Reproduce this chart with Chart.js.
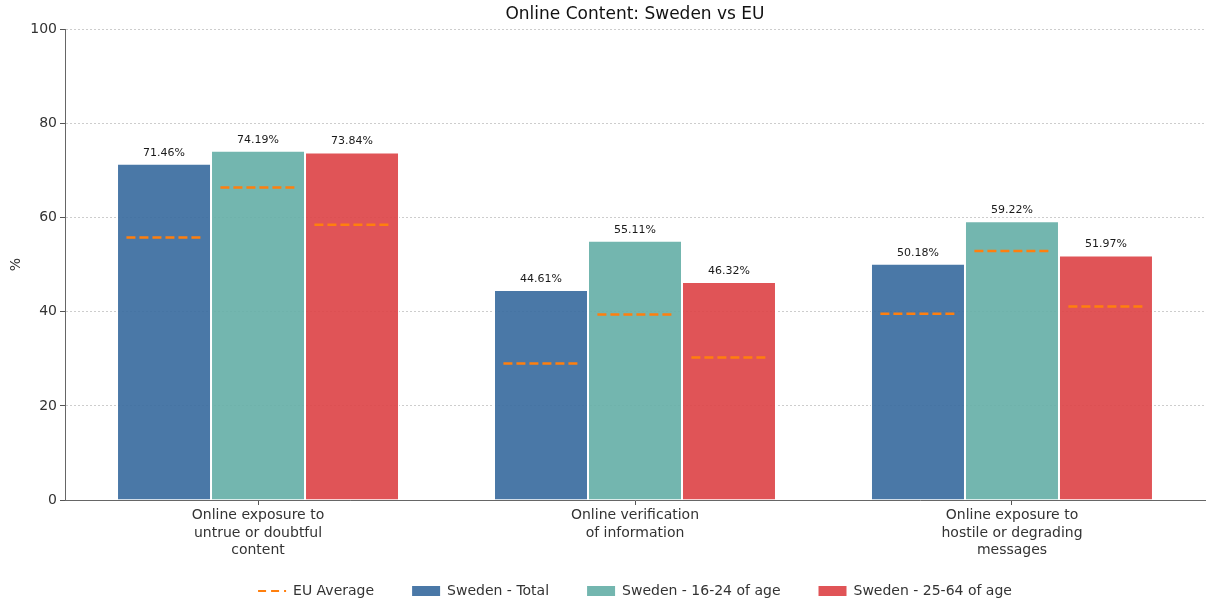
<!DOCTYPE html>
<html>
<head>
<meta charset="utf-8">
<script src="https://cdn.jsdelivr.net/npm/chart.js@4/dist/chart.umd.min.js"></script>
<style>
  html, body { margin: 0; padding: 0; background: #fff; }
  #wrap { width: 1210px; height: 604px; }
</style>
</head>
<body>
<div id="wrap"><canvas id="c" width="1210" height="604"></canvas></div>
<script>
// Indicators shown along the x axis (multi-line labels)
const categories = [
  ['Online exposure to', 'untrue or doubtful', 'content'],
  ['Online verification', 'of information'],
  ['Online exposure to', 'hostile or degrading', 'messages']
];

// Sweden, share of individuals (%)
const swedenTotal = [71.46, 44.61, 50.18];
const sweden16to24 = [74.19, 55.11, 59.22];
const sweden25to64 = [73.84, 46.32, 51.97];

// EU average for the same groups (%)
const euTotal = [55.8, 29.0, 39.6];
const eu16to24 = [66.4, 39.4, 52.9];
const eu25to64 = [58.5, 30.3, 41.1];

const yTicks = [0, 20, 40, 60, 80, 100];

const seriesNames = ['Sweden - Total', 'Sweden - 16-24 of age', 'Sweden - 25-64 of age'];
const seriesColors = ['rgba(59,108,160,0.92)', 'rgba(103,176,168,0.92)', 'rgba(221,69,73,0.92)'];
const euSeries = [euTotal, eu16to24, eu25to64];
const euColor = '#ff7f0e';

const FONT = "'DejaVu Sans', sans-serif";
const LEGEND_GAP = 38;

const toPoints = arr => arr.map((v, i) => ({ x: i, y: v }));

// EU average dashes over each bar, plus value labels above the bars
const overlayPlugin = {
  id: 'overlay',
  afterLayout(chart) {
    // wide horizontal spacing between legend items, but keep the row close to the axis labels
    if (chart.legend) {
      const lift = LEGEND_GAP - 24;
      chart.legend.top -= lift;
      chart.legend.bottom -= lift;
    }
  },
  afterDatasetsDraw(chart) {
    const ctx = chart.ctx;
    const yScale = chart.scales.y;
    chart.data.datasets.forEach((ds, di) => {
      const meta = chart.getDatasetMeta(di);
      const eu = euSeries[di];
      meta.data.forEach((bar, i) => {
        const half = bar.width * 0.4;
        const yEu = yScale.getPixelForValue(eu[i]);
        ctx.save();
        ctx.strokeStyle = euColor;
        ctx.lineWidth = 2.5;
        ctx.setLineDash([9, 4]);
        ctx.beginPath();
        ctx.moveTo(bar.x - half, yEu);
        ctx.lineTo(bar.x + half, yEu);
        ctx.stroke();
        ctx.restore();

        const v = ds.data[i].y;
        ctx.save();
        ctx.fillStyle = '#1a1a1a';
        ctx.font = '11px ' + FONT;
        ctx.textAlign = 'center';
        ctx.textBaseline = 'middle';
        ctx.fillText(v.toFixed(2) + '%', bar.x, yScale.getPixelForValue(v) - 11);
        ctx.restore();
      });
    });
  }
};

const datasets = [swedenTotal, sweden16to24, sweden25to64].map((vals, k) => ({
  label: seriesNames[k],
  data: toPoints(vals),
  backgroundColor: seriesColors[k],
  borderColor: '#ffffff',
  borderWidth: 1,
  categoryPercentage: 0.748,
  barPercentage: 1.0
}));

new Chart(document.getElementById('c'), {
  type: 'bar',
  data: { datasets },
  plugins: [overlayPlugin],
  options: {
    responsive: false,
    animation: false,
    layout: { padding: { left: 0, right: 5, top: 0, bottom: -18 } },
    plugins: {
      title: {
        display: true,
        fullSize: false,
        text: 'Online Content: Sweden vs EU',
        color: '#111',
        font: { family: FONT, size: 17, weight: 'normal' },
        padding: { top: 4, bottom: 5 }
      },
      legend: {
        position: 'bottom',
        fullSize: false,
        labels: {
          usePointStyle: true,
          pointStyleWidth: 28,
          boxHeight: 10,
          padding: LEGEND_GAP,
          color: '#333',
          font: { family: FONT, size: 14 },
          generateLabels(chart) {
            const items = [{
              text: 'EU Average',
              pointStyle: 'line',
              strokeStyle: euColor,
              fillStyle: euColor,
              lineWidth: 2,
              lineDash: [8, 5],
              fontColor: '#333',
              hidden: false,
              datasetIndex: -1
            }];
            chart.data.datasets.forEach((ds, i) => items.push({
              text: ds.label,
              pointStyle: 'rect',
              fillStyle: ds.backgroundColor,
              strokeStyle: ds.backgroundColor,
              lineWidth: 0,
              fontColor: '#333',
              hidden: false,
              datasetIndex: i
            }));
            return items;
          }
        }
      },
      tooltip: { enabled: false }
    },
    scales: {
      x: {
        type: 'linear',
        min: -0.512,
        max: 2.512,
        offset: false,
        afterBuildTicks(scale) {
          scale.ticks = [0, 1, 2].map(v => ({ value: v }));
        },
        afterFit(scale) { scale.height = 60; },
        ticks: {
          callback: v => categories[v] || '',
          color: '#333',
          font: { family: FONT, size: 14, lineHeight: 1.25 },
          padding: 2,
          maxRotation: 0,
          autoSkip: false
        },
        grid: {
          display: true,
          offset: false,
          drawOnChartArea: false,
          drawTicks: true,
          tickLength: 5,
          tickColor: '#555',
          tickWidth: 1
        },
        border: { display: true, color: '#666', width: 1 }
      },
      y: {
        min: 0,
        max: 100,
        afterBuildTicks(scale) {
          scale.ticks = yTicks.map(v => ({ value: v }));
        },
        afterFit(scale) { scale.width = 65; },
        title: {
          display: true,
          text: '%',
          color: '#333',
          font: { family: FONT, size: 14 },
          padding: { top: 8, bottom: 4 }
        },
        ticks: {
          color: '#333',
          font: { family: FONT, size: 14 },
          padding: 3
        },
        grid: {
          color: 'rgba(150,150,150,0.6)',
          lineWidth: 0.8,
          drawTicks: true,
          tickLength: 5,
          tickColor: '#555',
          tickWidth: 1,
          tickBorderDash: []
        },
        border: { display: true, color: '#666', width: 1, dash: [2, 2] }
      }
    }
  }
});
</script>
</body>
</html>
